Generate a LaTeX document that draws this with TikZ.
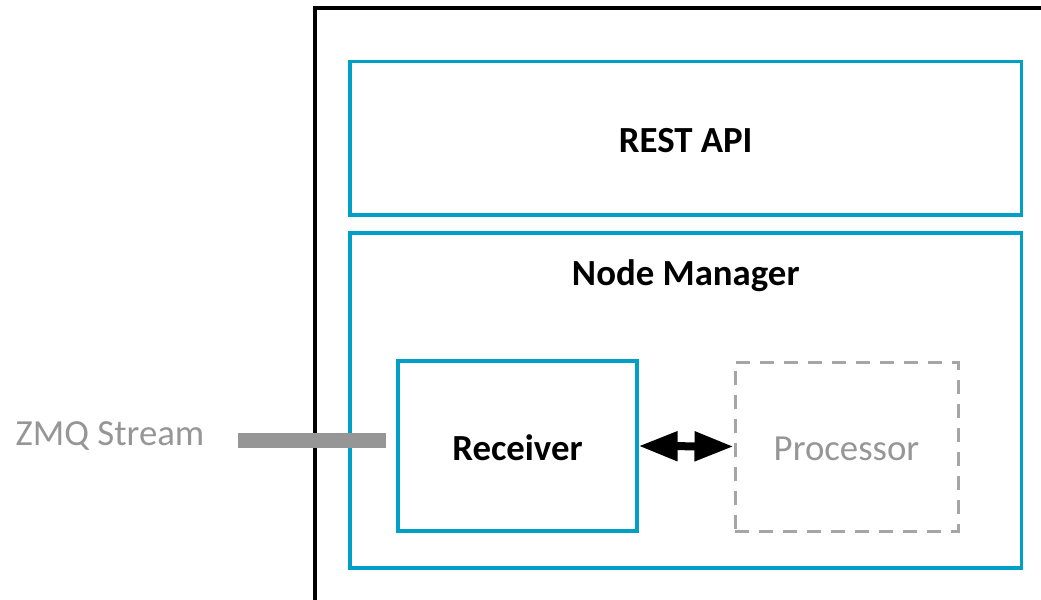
\documentclass[tikz,border=0pt]{standalone}
\usepackage{fontspec}
\setmainfont{Carlito}
\usepackage{tikz}
\usetikzlibrary{arrows.meta}

\definecolor{boxcyan}{RGB}{0,160,198}
\definecolor{streamgray}{RGB}{150,150,150}
\definecolor{idlegray}{RGB}{165,165,165}
\def\px{0.75pt}

\tikzset{
	frame/.style={line width=4*\px, black},
	part/.style={draw=boxcyan, line width=3.2*\px, inner sep=0pt},
	idle/.style={draw=idlegray, line width=3*\px, dash pattern=on 14*\px off 10*\px, inner sep=0pt},
	zmqbar/.style={line width=15*\px, streamgray},
	biarrow/.style={line width=8*\px, {Triangle[length=39*\px, width=28*\px]}-{Triangle[length=39*\px, width=28*\px]}},
	lbl/.style={anchor=base, inner sep=0pt, font=\fontsize{27.6}{33}\selectfont}
}

\begin{document}
\begin{tikzpicture}[x=\px, y=-\px]
			%%%%% START %%%%%
			
			\useasboundingbox (0, 0) rectangle (1041, 599);
			
			\draw[frame] (315, 610) -- (315, 8.5) -- (1050, 8.5);
			
			\node[part, minimum width=671.5*\px, minimum height=153.5*\px] (rest) at (685.75, 138.25) {};
			\node[lbl] (restlabel) at (685.75, 152) {\bfseries REST API};
			
			\node[part, minimum width=671.5*\px, minimum height=335*\px] (mgr) at (685.75, 400.5) {};
			\node[lbl] (mgrlabel) at (685.75, 285) {\bfseries Node Manager};
			
			\node[part, minimum width=239*\px, minimum height=170*\px] (recv) at (517.5, 446) {};
			\node[lbl] (recvlabel) at (517.5, 460) {\bfseries Receiver};
			
			\node[idle, minimum width=223*\px, minimum height=169*\px] (proc) at (846.5, 446.5) {};
			\node[lbl, text=streamgray] (proclabel) at (846.5, 460) {Processor};
			
			\draw[biarrow] (recv.east) -- (proc.west);
			
			\node[lbl, text=streamgray] (zmq) at (110, 445) {ZMQ Stream};
			\coordinate (zin) at (238, 440.5);
			\coordinate (zout) at (386, 440.5);
			\draw[zmqbar] (zin) -- (zout);
			
			%%%%% END %%%%%
		\end{tikzpicture}
\end{document}
